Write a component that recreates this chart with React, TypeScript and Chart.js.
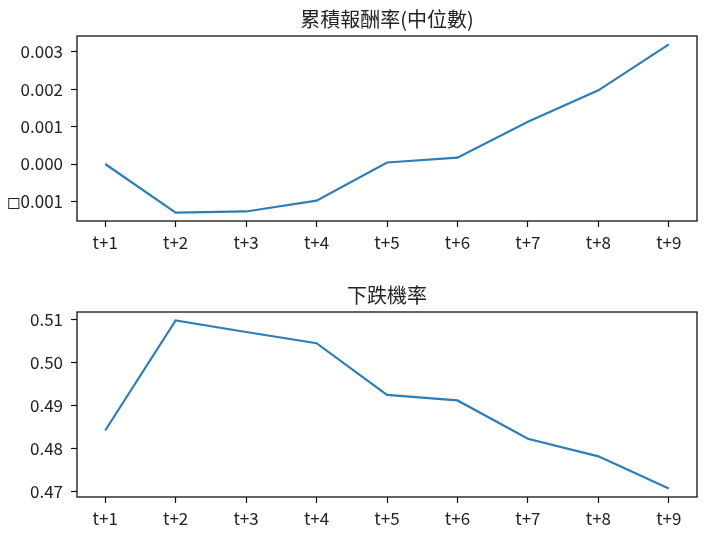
import React, { useEffect, useRef } from "react";
import { Chart, registerables } from "chart.js";

Chart.register(...registerables);

const categories = ["t+1", "t+2", "t+3", "t+4", "t+5", "t+6", "t+7", "t+8", "t+9"];
const medianReturn = [0.0, -0.0013, -0.00127, -0.00098, 0.00004, 0.00017, 0.00113, 0.00197, 0.0032];
const declineProb = [0.4842, 0.5098, 0.5071, 0.5045, 0.4925, 0.4912, 0.4823, 0.4782, 0.4707];
const returnTicks = [-0.001, 0.0, 0.001, 0.002, 0.003];
const returnTickLabels = ["\u25FB0.001", "0.000", "0.001", "0.002", "0.003"];
const probTicks = [0.47, 0.48, 0.49, 0.5, 0.51];
const probTickLabels = ["0.47", "0.48", "0.49", "0.50", "0.51"];
const titleTop = "累積報酬率(中位數)";
const titleBottom = "下跌機率";

const FONT = "'Noto Sans CJK TC', 'DejaVu Sans', sans-serif";

const frame = {
  id: "frame",
  afterDatasetsDraw(chart: any) {
    const a = chart.chartArea;
    const ctx = chart.ctx;
    ctx.save();
    ctx.strokeStyle = "#111";
    ctx.lineWidth = 1.3;
    ctx.strokeRect(a.left, a.top, a.right - a.left, a.bottom - a.top);
    ctx.restore();
  },
};

function makeConfig(
  title: string,
  values: number[],
  ticks: number[],
  tickLabels: string[],
  xAxisHeight: number
): any {
  const lo = Math.min(...values);
  const hi = Math.max(...values);
  const m = (hi - lo) * 0.05;
  const n = categories.length;
  return {
    type: "line",
    data: {
      datasets: [
        {
          data: values.map((v, i) => ({ x: i, y: v })),
          borderColor: "#2f7db6",
          borderWidth: 2.2,
          pointRadius: 0,
          tension: 0,
          fill: false,
        },
      ],
    },
    options: {
      animation: false,
      responsive: false,
      devicePixelRatio: 1,
      layout: { padding: { left: 0, right: 11, top: 0, bottom: 0 } },
      plugins: {
        legend: { display: false },
        tooltip: { enabled: false },
        title: {
          display: true,
          text: title,
          fullSize: false,
          color: "#222",
          font: { family: FONT, size: 20, weight: "normal", lineHeight: 1.2 },
          padding: { top: 7, bottom: 5 },
        },
      },
      scales: {
        x: {
          type: "linear",
          min: -0.4,
          max: n - 1 + 0.4,
          afterBuildTicks: (s: any) => {
            s.ticks = categories.map((_, i) => ({ value: i }));
          },
          afterFit: (s: any) => {
            s.height = xAxisHeight;
          },
          ticks: {
            autoSkip: false,
            maxRotation: 0,
            padding: 5,
            color: "#222",
            font: { family: FONT, size: 17 },
            callback: (v: any) => categories[Math.round(v)],
          },
          grid: {
            drawOnChartArea: false,
            drawTicks: true,
            tickLength: 6,
            tickColor: "#111",
            tickWidth: 1.2,
          },
          border: { display: false },
        },
        y: {
          type: "linear",
          min: lo - m,
          max: hi + m,
          afterBuildTicks: (s: any) => {
            s.ticks = ticks.map((t) => ({ value: t }));
          },
          afterFit: (s: any) => {
            s.width = 77;
          },
          ticks: {
            autoSkip: false,
            padding: 8,
            color: "#222",
            font: { family: FONT, size: 17 },
            callback: (v: any) => {
              const idx = ticks.findIndex((t) => Math.abs(t - v) < 1e-9);
              return idx >= 0 ? tickLabels[idx] : "";
            },
          },
          grid: {
            drawOnChartArea: false,
            drawTicks: true,
            tickLength: 6,
            tickColor: "#111",
            tickWidth: 1.2,
          },
          border: { display: false },
        },
      },
    },
    plugins: [frame],
  };
}

export default function App() {
  const ref1 = useRef<HTMLCanvasElement>(null);
  const ref2 = useRef<HTMLCanvasElement>(null);

  useEffect(() => {
    const c1 = new Chart(
      ref1.current as HTMLCanvasElement,
      makeConfig(titleTop, medianReturn, returnTicks, returnTickLabels, 47)
    );
    const c2 = new Chart(
      ref2.current as HTMLCanvasElement,
      makeConfig(titleBottom, declineProb, probTicks, probTickLabels, 39)
    );
    return () => {
      c1.destroy();
      c2.destroy();
    };
  }, []);

  return (
    <div style={{ position: "absolute", left: 0, top: 0, width: 708, height: 536, background: "#fff" }}>
      <canvas
        ref={ref1}
        width={708}
        height={268}
        style={{ position: "absolute", left: 0, top: 0, width: 708, height: 268 }}
      />
      <canvas
        ref={ref2}
        width={708}
        height={260}
        style={{ position: "absolute", left: 0, top: 276, width: 708, height: 260 }}
      />
    </div>
  );
}
